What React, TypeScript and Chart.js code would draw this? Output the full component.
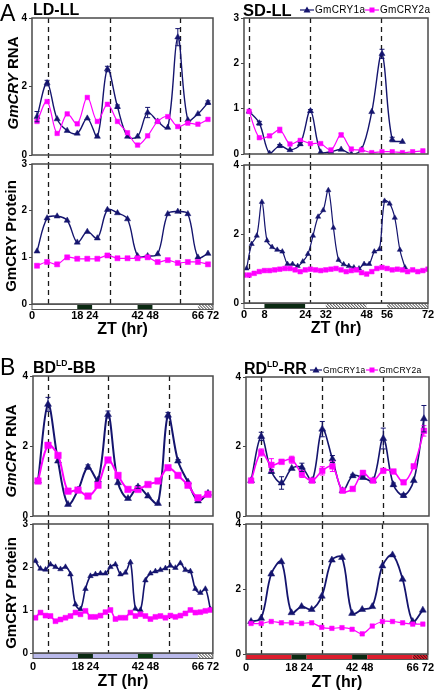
import React, { useEffect, useRef } from "react";
import { Chart, registerables } from "chart.js";

Chart.register(...registerables);

const FONT = "'Liberation Sans', Arial, Helvetica, sans-serif";
const BLUE = "#14146e";
const PINK = "#ff00ff";

// ---------- sampling times (ZT, hr) ----------
const HOURS_4 = [2, 6, 10, 14, 18, 22, 26, 30, 34, 38, 42, 46, 50, 54, 58, 62, 66, 70];
const HOURS_4_TO_62 = [2, 6, 10, 14, 18, 22, 26, 30, 34, 38, 42, 46, 50, 54, 58, 62];
const HOURS_ODD_63 = [1, 3, 5, 7, 9, 11, 13, 15, 17, 19, 21, 23, 25, 27, 29, 31, 33, 35, 37, 39, 41, 43, 45, 47, 49, 51, 53, 55, 57, 59, 61, 63];
const HOURS_EVEN_72 = [0, 2, 4, 6, 8, 10, 12, 14, 16, 18, 20, 22, 24, 26, 28, 30, 32, 34, 36, 38, 40, 42, 44, 46, 48, 50, 52, 54, 56, 58, 60, 62, 64, 66, 68, 70, 72];
const HOURS_ODD_71 = [1, 3, 5, 7, 9, 11, 13, 15, 17, 19, 21, 23, 25, 27, 29, 31, 33, 35, 37, 39, 41, 43, 45, 47, 49, 51, 53, 55, 57, 59, 61, 63, 65, 67, 69, 71];

// ---------- A: LD-LL ----------
const LD_RNA_CRY1 = [1.12, 2.1, 1.05, 0.71, 0.63, 1.07, 0.54, 2.51, 1.41, 0.54, 0.54, 1.24, 0.98, 0.8, 3.44, 1.02, 1.2, 1.53];
const LD_RNA_CRY1_ERR = [0.15, 0.08, 0, 0, 0, 0, 0, 0.08, 0.05, 0, 0, 0.15, 0, 0, 0.25, 0, 0, 0.05];
const LD_RNA_CRY2 = [0.98, 1.56, 0.63, 1.2, 0.91, 1.68, 0.98, 1.48, 0.98, 0.65, 0.29, 0.56, 0.98, 1.12, 0.83, 0.93, 0.9, 1.04];
const LD_PROT_CRY1 = [1.13, 1.84, 1.88, 1.79, 1.32, 1.55, 1.41, 2.02, 1.95, 1.82, 1.03, 1.03, 1.07, 1.93, 1.98, 1.93, 1.0, 1.08];
const LD_PROT_CRY2 = [0.82, 0.9, 0.85, 1.0, 0.97, 0.97, 0.97, 1.04, 0.98, 0.98, 0.98, 1.0, 0.9, 0.94, 0.88, 0.9, 0.9, 0.85];
const LD_DASHES = [6.5, 31, 59];
const LD_TICKS = [0, 18, 24, 42, 48, 66, 72];
const LD_REGIME: [number, number, string][] = [[0, 18, "L"], [18, 24, "D"], [24, 42, "L"], [42, 48, "D"], [48, 66, "L"], [66, 72, "S"]];

// ---------- A: SD-LL ----------
const SD_RNA_CRY1 = [0.94, 0.68, 0.01, 0.18, 0.09, 0.22, 0.95, 0.04, 0.05, 0.1, 0.0, 0.1, 0.93, 2.21, 0.32, 0.27];
const SD_RNA_CRY1_ERR = [0, 0.04, 0, 0.03, 0, 0.03, 0.03, 0, 0, 0, 0, 0, 0, 0.1, 0.05, 0];
const SD_RNA_CRY2 = [0.94, 0.36, 0.4, 0.53, 0.22, 0.3, 0.23, 0.23, 0.09, 0.42, 0.11, 0.09, 0.03, 0.05, 0.05, 0.03, 0.05, 0.07];
const SD_RNA_CRY2_ERR = [0, 0, 0.03, 0.06, 0, 0, 0, 0, 0, 0.04, 0, 0, 0, 0, 0, 0, 0, 0];
const SD_PROT_CRY1 = [1.0, 1.71, 1.95, 2.93, 1.81, 1.62, 1.54, 1.49, 1.13, 1.13, 1.07, 1.2, 1.42, 1.95, 2.5, 2.69, 3.27, 2.18, 1.25, 1.12, 1.07, 1.03, 1.0, 1.13, 1.13, 1.49, 1.56, 2.96, 2.88, 2.47, 1.54, 1.03];
const SD_PROT_CRY2 = [0.81, 0.81, 0.86, 0.91, 0.94, 0.94, 0.96, 0.98, 1.0, 1.0, 0.96, 0.91, 0.96, 0.98, 0.96, 0.94, 0.96, 0.98, 1.0, 0.96, 0.91, 0.94, 0.96, 0.88, 0.84, 0.91, 1.0, 1.03, 1.0, 0.96, 0.98, 0.96, 0.91, 0.96, 0.91, 0.94, 0.98];
const SD_DASHES = [2, 26, 53.5];
const SD_TICKS = [0, 8, 24, 32, 48, 56, 72];
const SD_REGIME: [number, number, string][] = [[0, 8, "L"], [8, 24, "D"], [24, 32, "L"], [32, 48, "S"], [48, 56, "L"], [56, 72, "S"]];

// ---------- B: BD(LD)-BB ----------
const BD_RNA_CRY1 = [1.0, 3.19, 1.57, 0.33, 0.74, 1.4, 1.03, 2.9, 0.95, 0.5, 0.83, 0.57, 0.36, 2.88, 1.57, 0.97, 0.43, 0.65];
const BD_RNA_CRY1_ERR = [0, 0.2, 0, 0, 0, 0.06, 0, 0.1, 0, 0, 0.04, 0, 0, 0.08, 0.04, 0, 0, 0];
const BD_RNA_CRY2 = [1.0, 2.02, 1.73, 0.71, 0.74, 0.57, 0.88, 1.6, 1.16, 0.76, 0.76, 0.9, 1.0, 1.38, 1.16, 0.88, 0.52, 0.62];
const BD_PROT_CRY1 = [2.14, 1.96, 1.94, 2.06, 2.0, 1.95, 2.0, 1.83, 1.13, 1.02, 1.49, 1.79, 1.83, 1.85, 1.85, 2.0, 2.06, 1.83, 1.87, 2.11, 1.03, 1.0, 1.69, 1.85, 1.9, 1.93, 1.97, 2.03, 1.98, 2.09, 1.93, 1.9, 1.49, 1.4, 1.49, 1.02];
const BD_PROT_CRY2 = [0.82, 0.94, 0.87, 0.86, 0.74, 0.78, 0.82, 0.86, 0.94, 0.9, 0.98, 0.84, 0.84, 0.87, 0.95, 1.0, 0.79, 0.82, 0.82, 0.94, 0.86, 0.9, 0.86, 0.79, 0.84, 0.86, 0.82, 0.87, 0.84, 0.87, 0.92, 1.0, 0.94, 0.95, 0.98, 1.0];
const BD_DASHES = [6, 30, 54.5];
const BD_TICKS = [0, 18, 24, 42, 48, 66, 72];
const BD_REGIME: [number, number, string][] = [[0, 18, "B"], [18, 24, "D"], [24, 42, "B"], [42, 48, "G"], [48, 66, "B"], [66, 72, "S"]];

// ---------- B: RD(LD)-RR ----------
const RD_RNA_CRY1 = [1.02, 2.29, 1.28, 0.95, 1.37, 1.4, 1.02, 2.5, 1.64, 0.73, 1.16, 1.11, 1.02, 2.23, 0.9, 0.59, 1.02, 2.8];
const RD_RNA_CRY1_ERR = [0, 0.12, 0.05, 0.18, 0, 0.12, 0, 0.22, 0.1, 0, 0.04, 0.04, 0, 0.3, 0.05, 0.05, 0, 0.38];
const RD_RNA_CRY2 = [1.02, 1.83, 1.47, 1.56, 1.62, 1.21, 1.02, 1.3, 1.43, 0.73, 0.78, 1.24, 1.02, 1.3, 1.28, 0.97, 1.43, 2.45];
const RD_RNA_CRY2_ERR = [0, 0.1, 0.18, 0, 0.1, 0.1, 0, 0.12, 0.15, 0, 0, 0.05, 0, 0, 0, 0, 0, 0.15];
const RD_PROT_CRY1 = [1.0, 1.1, 2.46, 2.84, 1.27, 1.46, 1.37, 1.78, 2.89, 2.97, 1.25, 1.37, 1.46, 2.71, 3.05, 2.3, 1.0, 1.35];
const RD_PROT_CRY2 = [0.94, 0.94, 1.0, 0.96, 0.96, 0.94, 0.96, 0.82, 0.79, 0.81, 0.76, 0.62, 0.86, 1.0, 1.0, 0.96, 0.92, 0.92];
const RD_DASHES = [6, 30, 54];
const RD_TICKS = [0, 18, 24, 42, 48, 66, 72];
const RD_REGIME: [number, number, string][] = [[0, 18, "R"], [18, 24, "D"], [24, 42, "R"], [42, 48, "D"], [48, 66, "R"], [66, 72, "T"]];

// ---------- styles ----------
const REGIME_FILL: Record<string, { fill: string; hatch?: string }> = {
  L: { fill: "#ffffff" },
  D: { fill: "#0b2a12" },
  G: { fill: "#0a3a12" },
  B: { fill: "#b9b9ea" },
  R: { fill: "#dd1d2d" },
  S: { fill: "#ffffff", hatch: "#333333" },
  T: { fill: "#dd1d2d", hatch: "#3a1010" },
};

type Series = { label: string; t: number[]; v: number[]; err?: number[]; color: string; marker: string; radius: number; width: number };
type Spec = {
  key: string;
  left: number; top: number; right: number; bottom: number;
  yMax: number; yStep: number;
  series: Series[];
  dashes: number[]; dashExtend: number;
  xTicks?: number[]; regime?: [number, number, string][];
  tickPad?: number; xH?: number;
};

const YW = 24;
const PT = 9;
const PR = 12;

const cry1 = (t: number[], v: number[], err?: number[], radius = 3.5, width = 1.4): Series => ({ label: "GmCRY1a", t, v, err, color: BLUE, marker: "triangle", radius, width });
const cry2 = (t: number[], v: number[], err?: number[], radius = 3.2, width = 1.2): Series => ({ label: "GmCRY2a", t, v, err, color: PINK, marker: "rect", radius, width });

const SPECS: Spec[] = [
  { key: "ld-rna", left: 32, top: 18, right: 213, bottom: 155, yMax: 4, yStep: 2, dashes: LD_DASHES, dashExtend: 9,
    series: [cry2(HOURS_4, LD_RNA_CRY2), cry1(HOURS_4, LD_RNA_CRY1, LD_RNA_CRY1_ERR)] },
  { key: "ld-prot", left: 32, top: 164, right: 213, bottom: 304, yMax: 3, yStep: 1, dashes: LD_DASHES, dashExtend: 0,
    xTicks: LD_TICKS, regime: LD_REGIME, tickPad: 5, xH: 35,
    series: [cry2(HOURS_4, LD_PROT_CRY2, undefined, 3.6), cry1(HOURS_4, LD_PROT_CRY1)] },
  { key: "sd-rna", left: 244, top: 18, right: 428, bottom: 154, yMax: 3, yStep: 1, dashes: SD_DASHES, dashExtend: 11,
    series: [cry2(HOURS_4, SD_RNA_CRY2, SD_RNA_CRY2_ERR), cry1(HOURS_4_TO_62, SD_RNA_CRY1, SD_RNA_CRY1_ERR)] },
  { key: "sd-prot", left: 244, top: 165, right: 428, bottom: 303, yMax: 4, yStep: 2, dashes: SD_DASHES, dashExtend: 0,
    xTicks: SD_TICKS, regime: SD_REGIME, tickPad: 5, xH: 35,
    series: [cry2(HOURS_EVEN_72, SD_PROT_CRY2, undefined, 3.3, 1.5), cry1(HOURS_ODD_63, SD_PROT_CRY1, undefined, 3, 1.2)] },
  { key: "bd-rna", left: 33, top: 376, right: 213, bottom: 516, yMax: 4, yStep: 2, dashes: BD_DASHES, dashExtend: 8,
    series: [cry2(HOURS_4, BD_RNA_CRY2, undefined, 4.6, 2), cry1(HOURS_4, BD_RNA_CRY1, BD_RNA_CRY1_ERR, 4, 2)] },
  { key: "bd-prot", left: 33, top: 524, right: 214, bottom: 653, yMax: 3, yStep: 1, dashes: BD_DASHES, dashExtend: 0,
    xTicks: BD_TICKS, regime: BD_REGIME, tickPad: 7, xH: 38,
    series: [cry2(HOURS_ODD_71, BD_PROT_CRY2, undefined, 3.5, 1.6), cry1(HOURS_ODD_71, BD_PROT_CRY1, undefined, 3.2, 1.6)] },
  { key: "rd-rna", left: 246, top: 377, right: 429, bottom: 516, yMax: 4, yStep: 2, dashes: RD_DASHES, dashExtend: 8,
    series: [cry2(HOURS_4, RD_RNA_CRY2, RD_RNA_CRY2_ERR, 4, 1.6), cry1(HOURS_4, RD_RNA_CRY1, RD_RNA_CRY1_ERR, 4, 1.6)] },
  { key: "rd-prot", left: 246, top: 524, right: 429, bottom: 654, yMax: 4, yStep: 2, dashes: RD_DASHES, dashExtend: 0,
    xTicks: RD_TICKS, regime: RD_REGIME, tickPad: 7, xH: 38,
    series: [cry2(HOURS_4, RD_PROT_CRY2, undefined, 3.2, 1.2), cry1(HOURS_4, RD_PROT_CRY1, undefined, 4, 1.8)] },
];

function makeDecor(spec: Spec) {
  return {
    id: "decor-" + spec.key,
    beforeDatasetsDraw(chart: any) {
      const { ctx, chartArea: a } = chart;
      const x = chart.scales.x;
      ctx.save();
      ctx.strokeStyle = "#1a1a1a";
      ctx.lineWidth = 1.3;
      ctx.setLineDash([5, 4]);
      for (const d of spec.dashes) {
        const px = Math.round(x.getPixelForValue(d)) + 0.5;
        ctx.beginPath();
        ctx.moveTo(px, a.top);
        ctx.lineTo(px, a.bottom + spec.dashExtend);
        ctx.stroke();
      }
      ctx.restore();
    },
    afterDatasetsDraw(chart: any) {
      const { ctx, chartArea: a } = chart;
      const x = chart.scales.x;
      const y = chart.scales.y;
      ctx.save();
      // error bars
      chart.data.datasets.forEach((ds: any, i: number) => {
        const errs: number[] | undefined = ds.errors;
        if (!errs) return;
        const meta = chart.getDatasetMeta(i);
        ctx.strokeStyle = ds.borderColor;
        ctx.lineWidth = 1;
        meta.data.forEach((el: any, j: number) => {
          const e = errs[j];
          if (!e) return;
          const v = ds.data[j].y;
          const y1 = y.getPixelForValue(v + e);
          const y2 = y.getPixelForValue(v - e);
          ctx.beginPath();
          ctx.moveTo(el.x, y1); ctx.lineTo(el.x, y2);
          ctx.moveTo(el.x - 2.5, y1); ctx.lineTo(el.x + 2.5, y1);
          ctx.moveTo(el.x - 2.5, y2); ctx.lineTo(el.x + 2.5, y2);
          ctx.stroke();
        });
      });
      // frame
      ctx.strokeStyle = "#4a4a4a";
      ctx.lineWidth = 1.5;
      ctx.strokeRect(a.left, a.top, a.right - a.left, a.bottom - a.top);
      // light regime strip
      if (spec.regime) {
        const top = a.bottom + 0.5;
        const h = 5;
        for (const [s, e, k] of spec.regime) {
          const x0 = x.getPixelForValue(s);
          const x1 = x.getPixelForValue(e);
          const st = REGIME_FILL[k];
          ctx.fillStyle = st.fill;
          ctx.fillRect(x0, top, x1 - x0, h);
          if (st.hatch) {
            ctx.save();
            ctx.beginPath();
            ctx.rect(x0, top, x1 - x0, h);
            ctx.clip();
            ctx.strokeStyle = st.hatch;
            ctx.lineWidth = 1;
            for (let k2 = x0 - h; k2 < x1; k2 += 3) {
              ctx.beginPath();
              ctx.moveTo(k2, top);
              ctx.lineTo(k2 + h, top + h);
              ctx.stroke();
            }
            ctx.restore();
          }
        }
        ctx.strokeStyle = "#555";
        ctx.lineWidth = 1;
        ctx.strokeRect(a.left, top, a.right - a.left, h);
      }
      ctx.restore();
    },
  };
}

function Panel({ spec }: { spec: Spec }) {
  const ref = useRef<HTMLCanvasElement>(null);
  const xH = spec.xTicks ? spec.xH || 35 : 12;
  const w = spec.right - spec.left + YW + PR;
  const h = spec.bottom - spec.top + PT + xH;
  useEffect(() => {
    if (!ref.current) return;
    const showX = !!spec.xTicks;
    const chart = new Chart(ref.current, {
      type: "line",
      data: {
        datasets: spec.series.map((s) => ({
          label: s.label,
          data: s.t.map((t, i) => ({ x: t, y: s.v[i] })),
          errors: s.err,
          borderColor: s.color,
          backgroundColor: s.color,
          borderWidth: s.width,
          pointStyle: s.marker,
          pointRadius: s.radius,
          pointBorderWidth: 0.5,
          tension: 0.35,
          fill: false,
        })) as any,
      },
      options: {
        animation: false,
        responsive: false,
        devicePixelRatio: 1,
        events: [],
        layout: { padding: { top: PT, right: PR, bottom: 0, left: 0 } },
        plugins: { legend: { display: false }, tooltip: { enabled: false } },
        scales: {
          x: {
            type: "linear",
            min: 0,
            max: 72,
            grid: { display: false, drawTicks: false },
            border: { display: false },
            afterBuildTicks: (sc: any) => {
              sc.ticks = (spec.xTicks || []).map((v) => ({ value: v }));
            },
            afterFit: (sc: any) => {
              sc.height = xH;
            },
            ticks: {
              display: showX,
              autoSkip: false,
              maxRotation: 0,
              padding: spec.tickPad || 5,
              color: "#000",
              font: { family: FONT, size: 11, weight: "bold" },
            },
            title: {
              display: showX,
              text: "ZT (hr)",
              color: "#000",
              padding: 0,
              font: { family: FONT, size: 16, weight: "bold" },
            },
          },
          y: {
            min: 0,
            max: spec.yMax,
            grid: { display: true, drawOnChartArea: false, drawTicks: true, tickLength: 3, color: "#444" },
            border: { display: false },
            afterFit: (sc: any) => {
              sc.width = YW;
            },
            ticks: {
              stepSize: spec.yStep,
              padding: 2,
              color: "#000",
              font: { family: FONT, size: 10, weight: "bold" },
            },
          },
        },
      } as any,
      plugins: [makeDecor(spec)],
    });
    return () => chart.destroy();
  }, [spec]);
  return (
    <canvas
      ref={ref}
      width={w}
      height={h}
      style={{ position: "absolute", left: spec.left - YW, top: spec.top - PT, width: w, height: h }}
    />
  );
}

function Txt({ x, y, size, bold, children, style }: any) {
  return (
    <div
      style={{
        position: "absolute",
        left: x,
        top: y - size / 2,
        fontSize: size,
        lineHeight: 1,
        fontWeight: bold ? "bold" : "normal",
        whiteSpace: "nowrap",
        color: "#000",
        ...style,
      }}
    >
      {children}
    </div>
  );
}

function YTitle({ cx, cy, children }: any) {
  return (
    <div
      style={{
        position: "absolute",
        left: cx,
        top: cy,
        transform: "translate(-50%, -50%) rotate(-90deg)",
        fontSize: 15,
        lineHeight: 1,
        fontWeight: "bold",
        whiteSpace: "nowrap",
        color: "#000",
      }}
    >
      {children}
    </div>
  );
}

function LegendItem({ x, y, marker, color, text, size, lineW = 14, spacing = 0.3 }: any) {
  const c = lineW / 2;
  return (
    <div style={{ position: "absolute", left: x, top: y - 6, height: 12, display: "flex", alignItems: "center", whiteSpace: "nowrap" }}>
      <svg width={lineW} height={10} style={{ marginRight: 1 }}>
        <line x1={0} y1={5} x2={lineW} y2={5} stroke={color} strokeWidth={1.2} />
        {marker === "triangle" ? (
          <polygon points={`${c},1.5 ${c + 3.5},7.5 ${c - 3.5},7.5`} fill={color} />
        ) : (
          <rect x={c - 2.5} y={2.5} width={5} height={5} fill={color} />
        )}
      </svg>
      <span style={{ fontSize: size, lineHeight: 1, color: "#000", letterSpacing: spacing }}>{text}</span>
    </div>
  );
}

export default function App() {
  return (
    <div
      style={{
        position: "fixed",
        left: 0,
        top: 0,
        width: 436,
        height: 690,
        background: "#fff",
        overflow: "hidden",
        fontFamily: FONT,
      }}
    >
      {SPECS.map((s) => (
        <Panel key={s.key} spec={s} />
      ))}

      <Txt x={0} y={13.5} size={23}>A</Txt>
      <Txt x={33} y={10} size={16} bold>LD-LL</Txt>
      <Txt x={243} y={10} size={16.5} bold>SD-LL</Txt>
      <LegendItem x={300} y={10} marker="triangle" color={BLUE} text="GmCRY1a" size={10} />
      <LegendItem x={365} y={10} marker="rect" color={PINK} text="GmCRY2a" size={10} />

      <Txt x={0} y={367.5} size={23}>B</Txt>
      <Txt x={33} y={367} size={16} bold>
        BD<sup style={{ fontSize: 8.5, verticalAlign: 7 }}>LD</sup>-BB
      </Txt>
      <Txt x={244} y={368} size={16} bold>
        RD<sup style={{ fontSize: 8.5, verticalAlign: 7 }}>LD</sup>-RR
      </Txt>
      <LegendItem x={310} y={370} marker="triangle" color={BLUE} text="GmCRY1a" size={8.5} lineW={12} spacing={0.2} />
      <LegendItem x={366} y={370} marker="rect" color={PINK} text="GmCRY2a" size={8.5} lineW={12} spacing={0.2} />

      <YTitle cx={12} cy={83}>
        <i>GmCRY</i> RNA
      </YTitle>
      <YTitle cx={10} cy={236}>GmCRY Protein</YTitle>
      <YTitle cx={10} cy={451}>
        <i>GmCRY</i> RNA
      </YTitle>
      <YTitle cx={9.5} cy={593}>GmCRY Protein</YTitle>
    </div>
  );
}
